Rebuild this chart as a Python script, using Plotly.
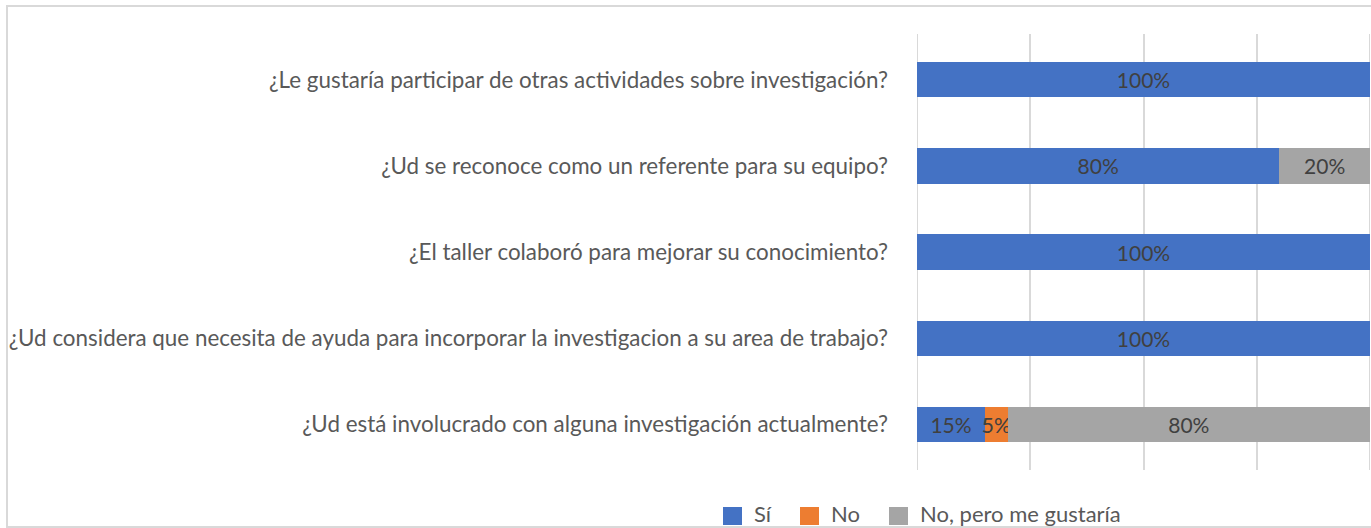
import plotly.graph_objects as go

categories = [
    "¿Le gustaría participar de otras actividades sobre investigación?",
    "¿Ud se reconoce como un referente para su equipo?",
    "¿El taller colaboró para mejorar su conocimiento?",
    "¿Ud considera que necesita de ayuda para incorporar la investigacion a su area de trabajo?",
    "¿Ud está involucrado con alguna investigación actualmente?",
]
si = [100, 80, 100, 100, 15]
no = [0, 0, 0, 0, 5]
no_pero = [0, 20, 0, 0, 80]
series_names = ["Sí", "No", "No, pero me gustaría"]
colors = ["#4472C4", "#ED7D31", "#A5A5A5"]

FONT = "Lato"
TXT = "#595959"
W, H = 1371, 528
L, R, T, B = 917, 1, 34, 58

fig = go.Figure()
for name, vals, col in zip(series_names, [si, no, no_pero], colors):
    fig.add_trace(go.Bar(
        y=categories, x=[v / 100 for v in vals], name=name, orientation="h",
        marker=dict(color=col, line=dict(width=0)),
        text=[f"{v}%" if v else "" for v in vals],
        textposition="inside", insidetextanchor="middle", constraintext="none",
        textangle=0, cliponaxis=False,
        textfont=dict(family=FONT, size=21, color="#404040"),
        hoverinfo="skip", showlegend=False,
    ))

pw = W - L - R
ph = H - T - B
def px(x):
    return (x - L) / pw
def py(y):
    return (H - B - y) / ph

shapes = [dict(type="rect", xref="paper", yref="paper", x0=px(7), x1=px(1380), y0=py(527), y1=py(6),
               line=dict(color="#D9D9D9", width=2), fillcolor="rgba(0,0,0,0)", layer="below")]
for gx in [0, 1]:
    shapes.append(dict(type="line", xref="x", yref="paper", x0=gx, x1=gx, y0=0, y1=1,
                       line=dict(color="#D9D9D9", width=2), layer="below"))

# custom legend (squares sized like the reference)
annotations = []
leg_sq_x = [723, 800, 889]
for name, col, sx in zip(series_names, colors, leg_sq_x):
    shapes.append(dict(type="rect", xref="paper", yref="paper", x0=px(sx), x1=px(sx + 19),
                       y0=py(525), y1=py(507), line=dict(width=0), fillcolor=col))
    annotations.append(dict(xref="paper", yref="paper", x=px(sx + 29), y=py(513), text=name,
                            showarrow=False, xanchor="left", yanchor="middle",
                            font=dict(family=FONT, size=22, color=TXT)))

fig.update_layout(
    width=W, height=H, barmode="stack", bargap=0.59,
    margin=dict(l=L, r=R, t=T, b=B, autoexpand=False),
    paper_bgcolor="white", plot_bgcolor="white",
    font=dict(family=FONT, size=22.4, color=TXT),
    xaxis=dict(range=[0, 1], dtick=0.25, showgrid=True, gridcolor="#D9D9D9", gridwidth=2,
               showticklabels=False, zeroline=False, showline=False, fixedrange=True),
    yaxis=dict(range=[4.53, -0.53], showgrid=False, zeroline=False, showline=False,
               ticks="", ticklabelstandoff=28, tickfont=dict(family=FONT, size=22.4, color=TXT)),
    showlegend=False,
    shapes=shapes,
    annotations=annotations,
)

fig.write_html("out.html")
